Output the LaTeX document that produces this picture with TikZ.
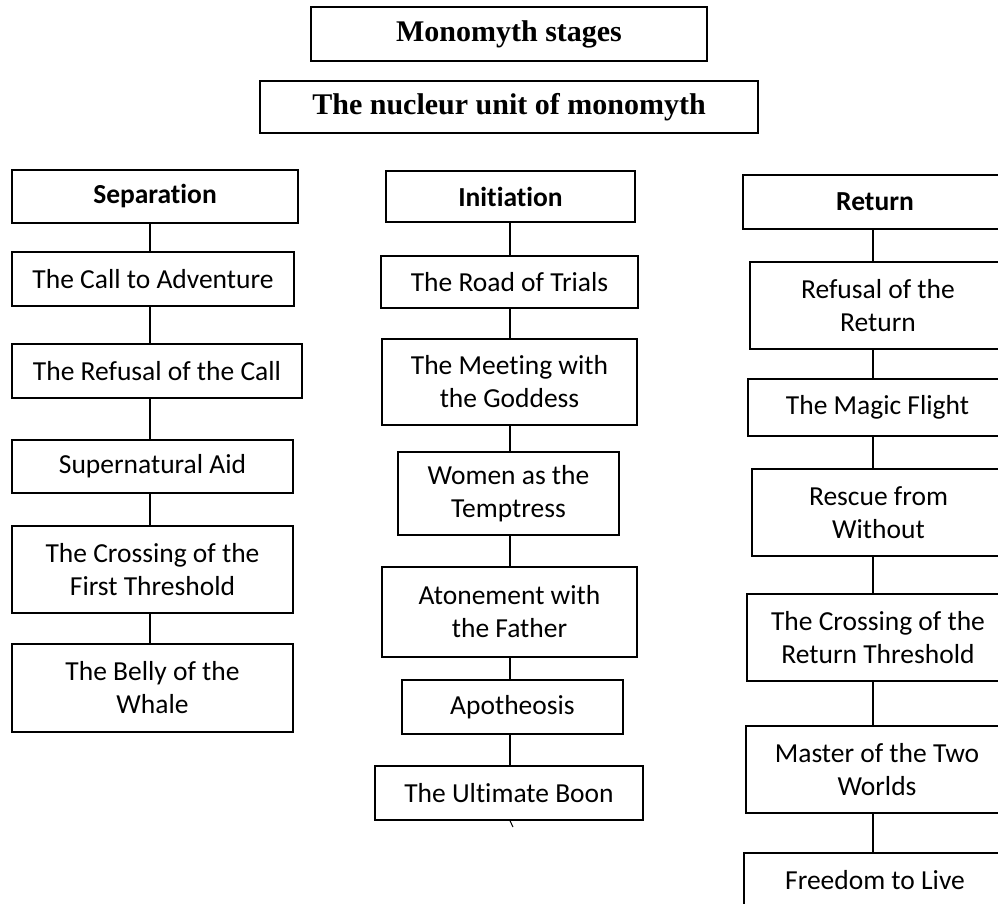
\documentclass[tikz,border=0pt]{standalone}
\usepackage{fontspec}
\setmainfont{Carlito}[Ligatures=NoCommon]
\newfontfamily\titlefont{Liberation Serif}
\tikzset{
  box/.style={draw, line width=1.5pt, inner sep=0pt, align=center,
    font=\fontsize{27.5}{33}\selectfont},
  head/.style={box, font=\fontsize{27.5}{33}\selectfont\bfseries},
  ttl/.style={box, font=\fontsize{30}{34}\selectfont\titlefont\bfseries},
  link/.style={line width=1.5pt}
}
\begin{document}
\begin{tikzpicture}[x=1pt,y=-1pt]
\useasboundingbox (0,0) rectangle (998,903);
\clip (0,0) rectangle (998,903);
% titles
\node[ttl, minimum width=396pt, minimum height=54pt] (t1) at (509,34) {Monomyth stages};
\node[ttl, minimum width=498pt, minimum height=52pt] (t2) at (509,107) {The nucleur unit of monomyth};
% column guides
\coordinate (cL) at (150,0);
\coordinate (cM) at (510,0);
\coordinate (cR) at (873,0);
% left column
\node[head, minimum width=286pt, minimum height=53pt] (sep) at (155,196.5) {Separation};
\node[box, minimum width=282pt, minimum height=54pt] (call) at (153,279) {The Call to Adventure};
\node[box, minimum width=290pt, minimum height=54pt] (rcall) at (157,371) {The Refusal of the Call};
\node[box, minimum width=281pt, minimum height=53pt] (super) at (152.5,466.5) {Supernatural Aid};
\node[box, minimum width=281pt, minimum height=87pt] (crossA) at (152.5,569.5) {The Crossing of the\\First Threshold};
\node[box, minimum width=281pt, minimum height=88pt] (belly) at (152.5,688) {The Belly of the\\Whale};
% middle column
\node[head, minimum width=249pt, minimum height=51pt] (init) at (510.5,196.5) {Initiation};
\node[box, minimum width=257pt, minimum height=52pt] (road) at (509.5,282) {The Road of Trials};
\node[box, minimum width=255pt, minimum height=86pt] (meet) at (509.5,382) {The Meeting with\\the Goddess};
\node[box, minimum width=221pt, minimum height=83pt] (women) at (508.5,493.5) {Women as the\\Temptress};
\node[box, minimum width=255pt, minimum height=90pt] (aton) at (509.5,612) {Atonement with\\the Father};
\node[box, minimum width=221pt, minimum height=54pt] (apo) at (512.5,707) {Apotheosis};
\node[box, minimum width=268pt, minimum height=54pt] (boon) at (509,793) {The Ultimate Boon};
\coordinate (stub) at (513,827);
% right column
\node[head, minimum width=264pt, minimum height=54pt] (ret) at (875,202) {Return};
\node[box, minimum width=256pt, minimum height=87pt] (rret) at (878,305.5) {Refusal of the\\Return};
\node[box, minimum width=259pt, minimum height=57pt] (magic) at (877.5,407.5) {The Magic Flight};
\node[box, minimum width=253pt, minimum height=87pt] (rescue) at (878.5,512.5) {Rescue from\\Without};
\node[box, minimum width=262pt, minimum height=87pt] (crossB) at (878,637.5) {The Crossing of the\\Return Threshold};
\node[box, minimum width=262pt, minimum height=87pt] (master) at (877,769.5) {Master of the Two\\Worlds};
\node[box, minimum width=262pt, minimum height=54pt] (free) at (875,880) {Freedom to Live};
% connectors
\foreach \a/\b in {sep/call,call/rcall,rcall/super,super/crossA,crossA/belly}
  \draw[link] (\a.south -| cL) -- (\b.north -| cL);
\foreach \a/\b in {init/road,road/meet,meet/women,women/aton,aton/apo,apo/boon}
  \draw[link] (\a.south -| cM) -- (\b.north -| cM);
\draw[line width=1pt] (boon.south -| cM) -- (stub);
\foreach \a/\b in {ret/rret,rret/magic,magic/rescue,rescue/crossB,crossB/master,master/free}
  \draw[link] (\a.south -| cR) -- (\b.north -| cR);
\end{tikzpicture}
\end{document}
